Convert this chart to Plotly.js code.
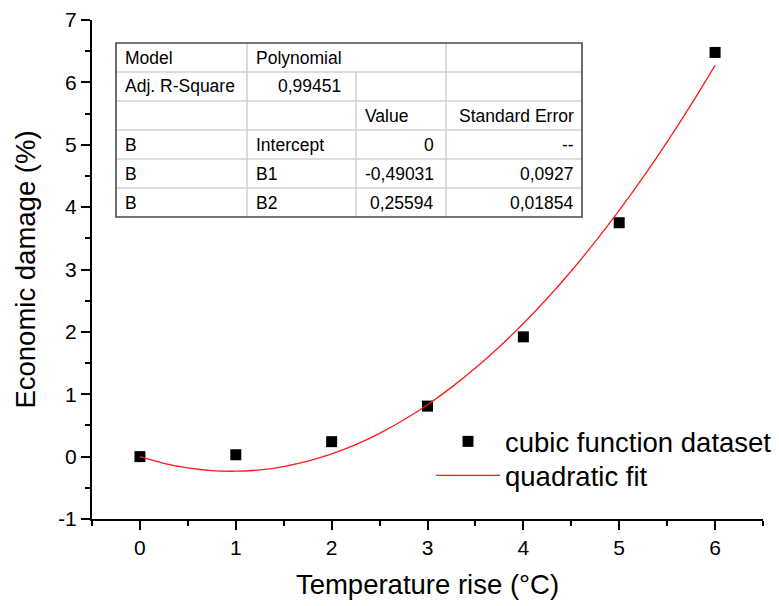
<!DOCTYPE html>
<html><head><meta charset="utf-8">
<script src="https://cdn.plot.ly/plotly-3.0.1.min.js"></script>
<style>html,body{margin:0;padding:0;background:#fff}</style>
</head><body><div id="chart" style="width:779px;height:606px"></div>
<script>
// ---- data ----
const temperature = [0, 1, 2, 3, 4, 5, 6];
const damage = [0, 0.03, 0.24, 0.81, 1.92, 3.75, 6.48];
const fitX = [0, 0.25, 0.5, 0.75, 1, 1.25, 1.5, 1.75, 2, 2.25, 2.5, 2.75, 3, 3.25, 3.5, 3.75, 4, 4.25, 4.5, 4.75, 5, 5.25, 5.5, 5.75, 6];
const fitY = [0, -0.107, -0.181, -0.224, -0.234, -0.213, -0.160, -0.074, 0.043, 0.193, 0.374, 0.587, 0.833, 1.110, 1.419, 1.761, 2.134, 2.539, 2.976, 3.446, 3.947, 4.480, 5.046, 5.643, 6.272];
const xTicks = [0, 1, 2, 3, 4, 5, 6];
const yTicks = [-1, 0, 1, 2, 3, 4, 5, 6, 7];
const tableRows = [
  ["Model", "Polynomial", "", ""],
  ["Adj. R-Square", "0,99451", "", ""],
  ["", "", "Value", "Standard Error"],
  ["B", "Intercept", "0", "--"],
  ["B", "B1", "-0,49031", "0,0927"],
  ["B", "B2", "0,25594", "0,01854"]
];

// ---- layout geometry ----
const W = 779, H = 606;
const M = {l: 92, r: 16, t: 20, b: 87, autoexpand: false};
const pw = W - M.l - M.r, ph = H - M.t - M.b;
const px2x = p => (p - M.l) / pw;
const px2y = p => (H - M.b - p) / ph;
const FONT = "Liberation Sans, Arial, Helvetica, sans-serif";

const colEdges = [116, 247, 356, 446, 582];
const rowEdges = [43, 72, 101, 130, 159, 188, 217];
const rightPad = [7, 13, 10, 6];
const leftPad = 7;

const shapes = [];
const light = {color: '#d2d2d2', width: 1.6};
for (let r = 1; r < rowEdges.length - 1; r++) {
  shapes.push({type: 'line', xref: 'paper', yref: 'paper',
    x0: px2x(colEdges[0]), x1: px2x(colEdges[4]), y0: px2y(rowEdges[r]), y1: px2y(rowEdges[r]), line: light});
}
[[1, 0], [2, 1], [3, 0]].forEach(([c, r0]) => {
  shapes.push({type: 'line', xref: 'paper', yref: 'paper',
    x0: px2x(colEdges[c]), x1: px2x(colEdges[c]), y0: px2y(rowEdges[r0]), y1: px2y(rowEdges[6]), line: light});
});
shapes.push({type: 'rect', xref: 'paper', yref: 'paper',
  x0: px2x(colEdges[0]), x1: px2x(colEdges[4]), y0: px2y(rowEdges[0]), y1: px2y(rowEdges[6]),
  line: {color: '#4a4a4a', width: 1.6}, fillcolor: 'rgba(0,0,0,0)'});

const annotations = [];
const isNum = s => /^[-0-9,.]+$/.test(s) || s === '--';
tableRows.forEach((row, r) => {
  row.forEach((txt, c) => {
    if (!txt) return;
    const right = isNum(txt) || c === 3;
    const yc = (rowEdges[r] + rowEdges[r + 1]) / 2;
    annotations.push({
      xref: 'paper', yref: 'paper', showarrow: false,
      x: right ? px2x(colEdges[c + 1] - rightPad[c]) : px2x(colEdges[c] + leftPad),
      xanchor: right ? 'right' : 'left',
      y: px2y(yc), yanchor: 'middle',
      text: txt, font: {family: FONT, size: 17.5, color: '#000'}
    });
  });
});

const traces = [
  {x: temperature, y: damage, type: 'scatter', mode: 'markers', name: 'cubic function dataset',
   marker: {symbol: 'square', size: 11, color: '#000'}, legend: 'legend'},
  {x: fitX, y: fitY, type: 'scatter', mode: 'lines', name: 'quadratic fit',
   line: {color: '#ff1a1a', width: 1.3, shape: 'spline'}, legend: 'legend2'}
];

const axisCommon = {
  showline: true, linecolor: '#000', linewidth: 2, mirror: false,
  showgrid: false, zeroline: false,
  ticks: 'outside', ticklen: 9, tickwidth: 2, tickcolor: '#000',
  tickfont: {family: FONT, size: 21, color: '#000'}
};
const legendCommon = {xanchor: 'left', yanchor: 'top', bgcolor: 'rgba(0,0,0,0)',
  font: {family: FONT, size: 27.5, color: '#000'}, itemwidth: 64};

const layout = {
  width: W, height: H, margin: M,
  paper_bgcolor: '#fff', plot_bgcolor: '#fff',
  font: {family: FONT, color: '#000'},
  showlegend: true,
  legend: Object.assign({}, legendCommon, {x: px2x(431), y: px2y(417)}),
  legend2: Object.assign({}, legendCommon, {x: px2x(431), y: px2y(451)}),
  xaxis: Object.assign({}, axisCommon, {
    range: [-0.5, 6.5], tickvals: xTicks, ticktext: xTicks.map(String),
    minor: {dtick: 0.5, tick0: 0, ticks: 'outside', ticklen: 5, tickwidth: 2, tickcolor: '#000'},
    title: {text: 'Temperature rise (°C)', font: {family: FONT, size: 27.5, color: '#000'}, standoff: 17}
  }),
  yaxis: Object.assign({}, axisCommon, {
    range: [-1, 7], tickvals: yTicks, ticktext: yTicks.map(String),
    minor: {dtick: 0.5, tick0: 0, ticks: 'outside', ticklen: 5, tickwidth: 2, tickcolor: '#000'},
    title: {text: 'Economic damage (%)', font: {family: FONT, size: 27.5, color: '#000'}, standoff: 14}
  }),
  shapes: shapes,
  annotations: annotations
};

Plotly.newPlot('chart', traces, layout, {displayModeBar: false, staticPlot: true});
</script>
</body></html>
